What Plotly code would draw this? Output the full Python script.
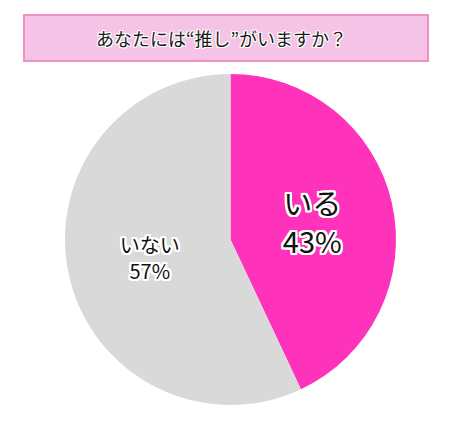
import plotly.graph_objects as go

# answers to the survey question
labels = ["いる", "いない"]
values = [43, 57]
colors = ["#FF33BB", "#D9D9D9"]
question = "あなたには“推し”がいますか？"

# the page body adds an 8px margin, so the figure is a bit smaller than the window
W, H = 444, 423
OFF = 8


def px(x):
    return (x - OFF) / W


def py(y):
    return 1 - (y - OFF) / H


def outline(n):
    return ", ".join(f"{dx}px {dy}px 0 #fff" for dx in range(-n, n + 1) for dy in range(-n, n + 1))


fig = go.Figure(go.Pie(
    labels=labels,
    values=values,
    sort=False,
    direction="clockwise",
    rotation=0,
    marker=dict(colors=colors, line=dict(width=0)),
    texttemplate="%{label}<br>%{percent:.0%}",
    textposition="inside",
    insidetextorientation="horizontal",
    textfont=dict(size=[29, 20], color="#111", family="Noto Sans CJK JP", shadow=outline(2)),
    hoverinfo="label+percent",
    domain=dict(x=[px(64), px(397)], y=[py(405), py(74)]),
))

# title box
fig.add_shape(type="rect", xref="paper", yref="paper",
              x0=px(24), x1=px(428), y0=py(61), y1=py(15),
              fillcolor="#F4C3E5", line=dict(color="#F091C3", width=2))
fig.add_annotation(text=question, xref="paper", yref="paper",
                   x=px(221), y=py(38), showarrow=False,
                   xanchor="center", yanchor="middle",
                   font=dict(size=18, color="#1a1a1a", family="Noto Sans CJK JP", shadow=outline(1)))

fig.update_layout(
    width=W, height=H,
    margin=dict(l=0, r=0, t=0, b=0),
    showlegend=False,
    paper_bgcolor="white",
    plot_bgcolor="white",
)

fig.write_html("out.html")
